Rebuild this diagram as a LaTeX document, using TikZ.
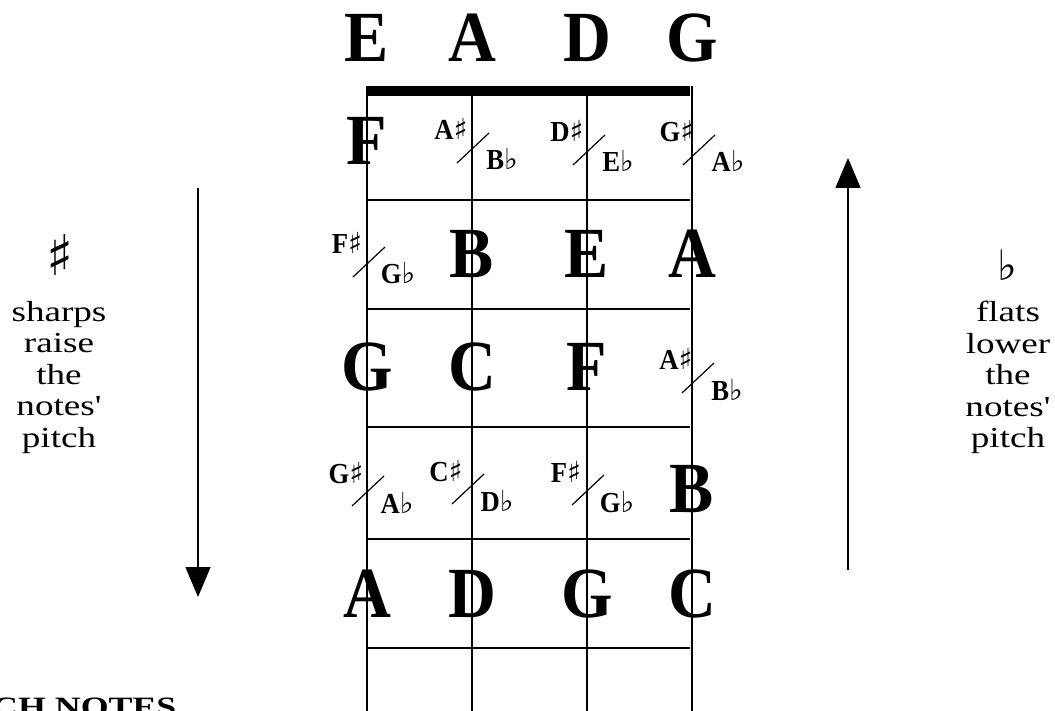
\documentclass[tikz,border=0pt]{standalone}
\usepackage{fontspec}
\usepackage{tikz}
\usetikzlibrary{arrows.meta,positioning}
\setmainfont{Liberation Serif}
\newfontfamily\notefont[FakeStretch=0.92]{Liberation Serif}
\newfontfamily\bodyfont[FakeStretch=1.28]{Liberation Serif}
\newfontfamily\accfont{DejaVu Sans}
\newcommand{\sharpsign}{{\accfont ♯}}
\newcommand{\flatsign}{{\accfont ♭}}
% enharmonic pair: name, slash midpoint, sharp note, flat note
\newcommand{\enharm}[4]{%
  \begin{scope}[shift={#2}]
    \node[accname,anchor=base] (#1s) at (-22,-8) {#3\sharpsign};
    \node[accname,anchor=base] (#1f) at (29,22) {#4\flatsign};
    \draw[slashline] (-16,15) -- (16,-15);
  \end{scope}}
\tikzset{
  bignote/.style={font=\notefont\bfseries\fontsize{72}{72}\selectfont,
    inner sep=0pt,anchor=base},
  accname/.style={font=\notefont\bfseries\fontsize{29}{29}\selectfont,
    inner sep=0pt},
  sidetext/.style={font=\bodyfont\fontsize{29}{31.5}\selectfont,
    align=center,inner sep=0pt,anchor=north},
  fretline/.style={draw=black,line width=1.4pt},
  nutline/.style={draw=black,line width=10pt},
  slashline/.style={draw=black,line width=1.2pt},
  pitcharrow/.style={-{Triangle[length=30pt,width=25pt]},line width=1.5pt}
}
\begin{document}
\begin{tikzpicture}[x=1pt,y=-1pt]
  \useasboundingbox (0,0) rectangle (1055,711);
  \clip (0,0) rectangle (1055,711);
  % strings and frets
  \foreach \sx in {367,472,587,692}
    \draw[fretline] (\sx,86) -- (\sx,711);
  \foreach \fy in {200,309,427,539,648}
    \draw[fretline] (367,\fy) -- (690,\fy);
  \draw[nutline] (366,91) -- (690,91);
  % open strings
  \node[bignote] (tE) at (367,62) {E};
  \node[bignote] (tA) at (472,62) {A};
  \node[bignote] (tD) at (587,62) {D};
  \node[bignote] (tG) at (692,62) {G};
  % fret 1
  \node[bignote] (f1s1) at (367,165) {F};
  \enharm{f1s2}{(473,148)}{A}{B}
  \enharm{f1s3}{(589,150)}{D}{E}
  \enharm{f1s4}{(699,150)}{G}{A}
  % fret 2
  \enharm{f2s1}{(369,262)}{F}{G}
  \node[bignote] (f2s2) at (472,278) {B};
  \node[bignote] (f2s3) at (587,278) {E};
  \node[bignote] (f2s4) at (692,278) {A};
  % fret 3
  \node[bignote] (f3s1) at (367,390) {G};
  \node[bignote] (f3s2) at (472,390) {C};
  \node[bignote] (f3s3) at (587,390) {F};
  \enharm{f3s4}{(698,378)}{A}{B}
  % fret 4
  \enharm{f4s1}{(368,491)}{G}{A}
  \enharm{f4s2}{(468,489)}{C}{D}
  \enharm{f4s3}{(588,490)}{F}{G}
  \node[bignote] (f4s4) at (692,512) {B};
  % fret 5
  \node[bignote] (f5s1) at (367,617) {A};
  \node[bignote] (f5s2) at (472,617) {D};
  \node[bignote] (f5s3) at (587,617) {G};
  \node[bignote] (f5s4) at (692,617) {C};
  % sharps side
  \node[inner sep=0pt,font=\fontsize{56}{56}\selectfont] (sharpsym) at (60,255) {\sharpsign};
  \node[sidetext] (sharptext) at (59,301) {sharps\\raise\\the\\notes'\\pitch};
  \coordinate (sharptop) at (198,188);
  \coordinate (sharpend) at (198,597);
  \draw[pitcharrow] (sharptop) -- (sharpend);
  % flats side
  \node[inner sep=0pt,font=\fontsize{42}{42}\selectfont] (flatsym) at (1007,265) {\flatsign};
  \node[sidetext] (flattext) at (1008,301) {flats\\lower\\the\\notes'\\pitch};
  \coordinate (flatbot) at (848,570);
  \coordinate (flattop) at (848,158);
  \draw[pitcharrow] (flatbot) -- (flattop);
  % cut-off heading
  \node[anchor=north west,inner sep=0pt,
    font=\bodyfont\bfseries\fontsize{28}{28}\selectfont] (heading) at (-8,698) {CH NOTES};
\end{tikzpicture}
\end{document}
